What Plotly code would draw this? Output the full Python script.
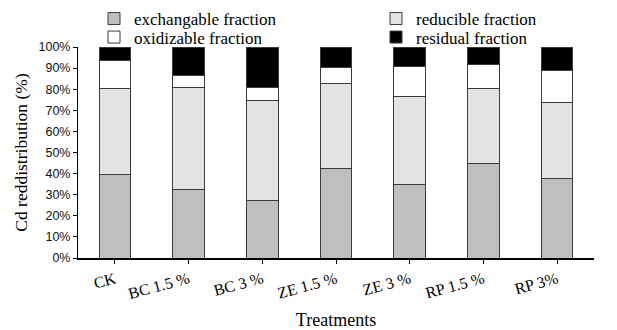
import plotly.graph_objects as go

categories = ["CK", "BC 1.5 %", "BC 3 %", "ZE 1.5 %", "ZE 3 %", "RP 1.5 %", "RP 3%"]
exchangable = [39.6, 32.7, 27.3, 42.5, 34.9, 44.7, 37.7]
reducible = [40.5, 47.9, 47.2, 40.2, 41.7, 35.5, 36.0]
oxidizable = [13.4, 5.7, 6.4, 7.8, 14.2, 11.4, 15.4]
residual = [6.5, 13.7, 19.1, 9.5, 9.2, 8.4, 10.9]

series = [
    ("exchangable fraction", exchangable, "#bfbfbf", "legend"),
    ("reducible fraction", reducible, "#e3e3e3", "legend2"),
    ("oxidizable fraction", oxidizable, "#ffffff", "legend3"),
    ("residual fraction", residual, "#000000", "legend4"),
]

fig = go.Figure()
for name, vals, color, lg in series:
    fig.add_trace(go.Bar(
        x=categories, y=vals, name=name,
        marker=dict(color=color, line=dict(color="#3a3a3a", width=1)),
        legend=lg,
    ))

legend_common = dict(
    orientation="h", xanchor="left", yanchor="middle",
    font=dict(family="Liberation Serif", size=17, color="#000000"),
    bgcolor="rgba(0,0,0,0)", borderwidth=0,
    itemclick=False, itemdoubleclick=False,
)

# plot area: x 78..594 px (516 px), y 47..258 px (211 px)
col1 = (94 - 78) / 516
col2 = (376 - 78) / 516
row1 = 1 + (47 - 19) / 211
row2 = 1 + (47 - 37.5) / 211

fig.update_layout(
    width=617, height=330,
    margin=dict(l=78, r=23, t=47, b=72, autoexpand=False),
    barmode="stack", bargap=0.57,
    plot_bgcolor="#ffffff", paper_bgcolor="#ffffff",
    showlegend=True,
    legend=dict(x=col1, y=row1, **legend_common),
    legend2=dict(x=col2, y=row1, **legend_common),
    legend3=dict(x=col1, y=row2, **legend_common),
    legend4=dict(x=col2, y=row2, **legend_common),
    xaxis=dict(
        showline=True, linecolor="#000000", linewidth=2,
        ticks="outside", ticklen=4, tickcolor="#000000",
        tickangle=-15,
        tickfont=dict(family="Liberation Serif", size=16, color="#000000"),
        title=dict(text="Treatments", font=dict(family="Liberation Serif", size=18, color="#000000"), standoff=18),
        showgrid=False, zeroline=False,
    ),
    yaxis=dict(
        range=[0, 100], dtick=10, ticksuffix="%",
        showline=True, linecolor="#000000", linewidth=1,
        ticks="outside", ticklen=4, tickcolor="#000000",
        tickfont=dict(family="Liberation Sans", size=12.5, color="#111111"),
        title=dict(text="Cd reddistribution (%)", font=dict(family="Liberation Serif", size=17.5, color="#000000"), standoff=6),
        showgrid=False, zeroline=False,
    ),
)

fig.write_html("out.html")
